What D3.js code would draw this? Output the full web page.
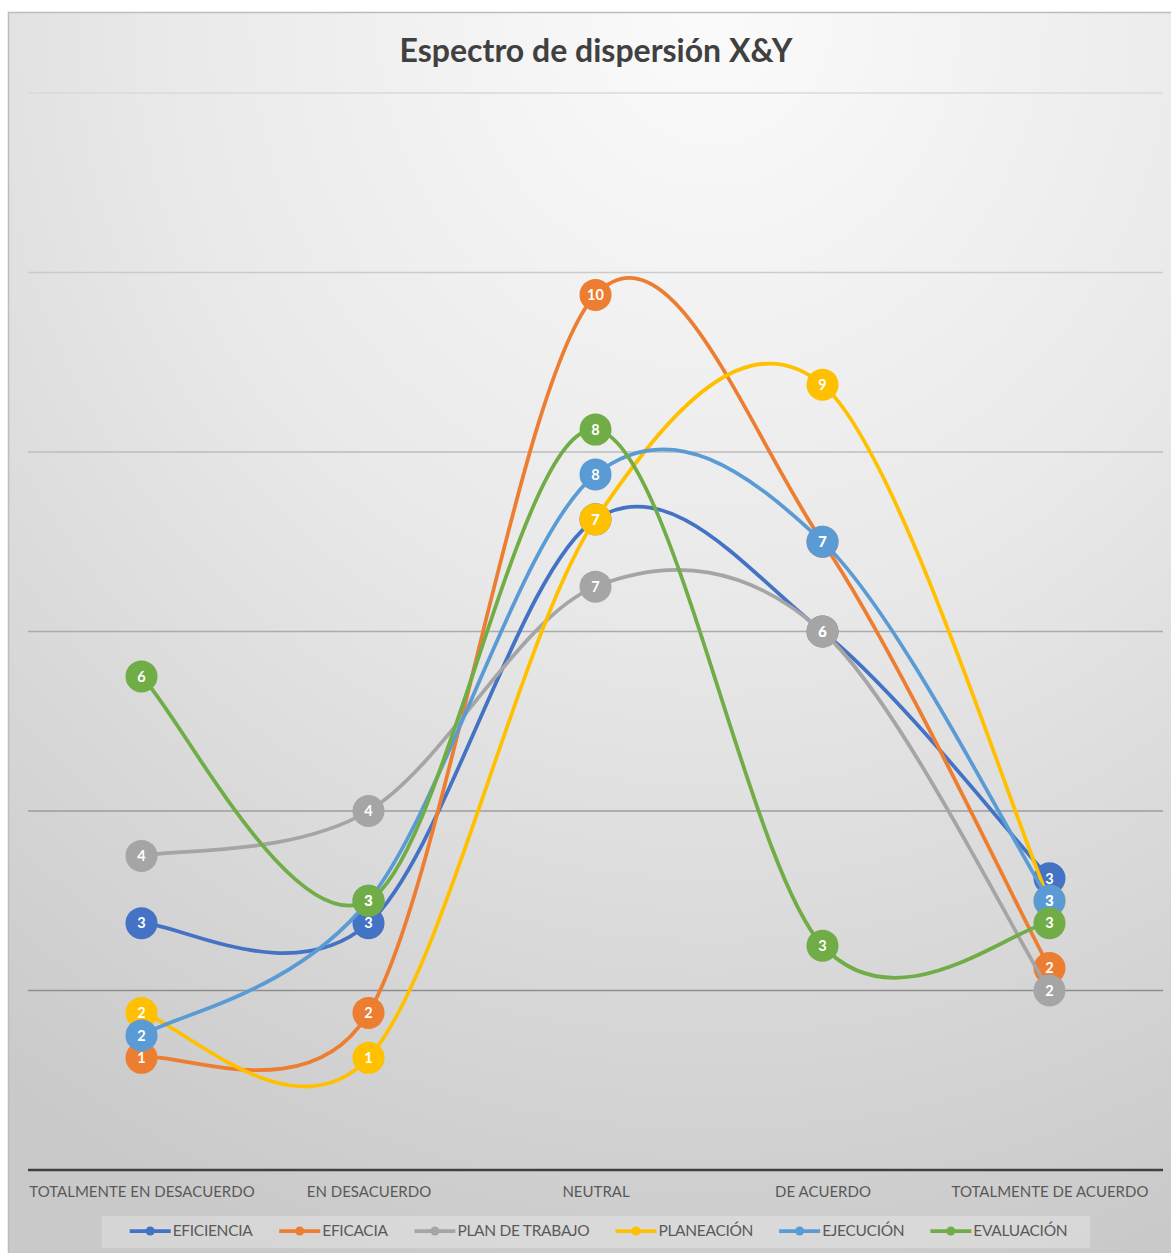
<!DOCTYPE html>
<html><head><meta charset="utf-8">
<script src="https://cdn.jsdelivr.net/npm/d3@7"></script>
<style>body{margin:0;background:#fff}svg{display:block}</style></head>
<body><svg id="c" width="1171" height="1253"></svg>
<script>
const title = "Espectro de dispersión X&Y";
const categories = ["TOTALMENTE EN DESACUERDO","EN DESACUERDO","NEUTRAL","DE ACUERDO","TOTALMENTE DE ACUERDO"];
const seriesNames = ["EFICIENCIA","EFICACIA","PLAN DE TRABAJO","PLANEACIÓN","EJECUCIÓN","EVALUACIÓN"];
const eficiencia    = [2.75, 2.75, 7.25, 6.0, 3.25];
const eficacia      = [1.25, 1.75, 9.75, 7.0, 2.25];
const planDeTrabajo = [3.5, 4.0, 6.5, 6.0, 2.0];
const planeacion    = [1.75, 1.25, 7.25, 8.75, 3.0];
const ejecucion     = [1.5, 3.0, 7.75, 7.0, 3.0];
const evaluacion    = [5.5, 3.0, 8.25, 2.5, 2.75];
const seriesColors  = ["#4472C4","#ED7D31","#A5A5A5","#FFC000","#5B9BD5","#70AD47"];
const yTicks = [2, 4, 6, 8, 10, 12];

const seriesValues = [eficiencia, eficacia, planDeTrabajo, planeacion, ejecucion, evaluacion];
const series = seriesNames.map((n, i) => ({name: n, color: seriesColors[i], values: seriesValues[i]}));

const FONT = "Lato, 'Open Sans', sans-serif";
const svg = d3.select("#c");
const W = 1171, H = 1253;

const defs = svg.append("defs");
const bg = defs.append("radialGradient").attr("id", "bg")
  .attr("cx", "0.6").attr("cy", "0").attr("r", "1.05").attr("fx", "0.6").attr("fy", "0");
bg.append("stop").attr("offset", "0").attr("stop-color", "#fbfbfb");
bg.append("stop").attr("offset", "0.45").attr("stop-color", "#e9e9e9");
bg.append("stop").attr("offset", "1").attr("stop-color", "#c9c9c9");

svg.append("rect").attr("x", 8.5).attr("y", 12.5).attr("width", W).attr("height", H)
  .attr("fill", "url(#bg)").attr("stroke", "#bdbdbd").attr("stroke-width", 1.5);

const plot = {left: 28, right: 1163, top: 93, bottom: 1170};
const x = d3.scalePoint().domain(categories).range([plot.left, plot.right]).padding(0.5);
const y = d3.scaleLinear().domain([0, 12]).range([plot.bottom, plot.top]);

// gridlines
const gridColor = d3.scaleLinear().domain([plot.top, y(2)]).range(["#dadada", "#8e8e8e"]);
svg.append("g").selectAll("line").data(yTicks).join("line")
  .attr("x1", plot.left).attr("x2", plot.right)
  .attr("y1", d => y(d)).attr("y2", d => y(d))
  .attr("stroke", d => gridColor(y(d))).attr("stroke-width", 1.5);

// x axis
const xAxis = svg.append("g").attr("transform", `translate(0,${plot.bottom})`)
  .call(d3.axisBottom(x).tickSize(0).tickPadding(16));
xAxis.select(".domain").attr("stroke", "#404040").attr("stroke-width", 2.5)
  .attr("d", `M${plot.left},0H${plot.right}`);
xAxis.selectAll("text").attr("font-family", FONT).attr("font-size", 15)
  .attr("fill", "#595959");

// title
svg.append("text").attr("x", 596).attr("y", 62).attr("text-anchor", "middle")
  .attr("font-family", FONT).attr("font-weight", "bold").attr("font-size", 32)
  .attr("fill", "#404040").text(title);

// Excel-style smoothed line: Bezier control points (P2-P0)/6, clamped to half of the adjacent segment
function excelSmooth(pts) {
  const p = d3.path();
  const n = pts.length;
  const dist = (a, b) => Math.hypot(b[0] - a[0], b[1] - a[1]);
  const ctrl = pts.map((pt, i) => {
    const p0 = pts[Math.max(0, i - 1)], p2 = pts[Math.min(n - 1, i + 1)];
    const d02 = dist(p0, p2), d01 = dist(p0, pt), d12 = dist(pt, p2);
    const dx = (p2[0] - p0[0]), dy = (p2[1] - p0[1]);
    const fb = d02 ? Math.min(d02 / 6, d01 / 2) / d02 : 0;
    const fa = d02 ? Math.min(d02 / 6, d12 / 2) / d02 : 0;
    return {before: [pt[0] - dx * fb, pt[1] - dy * fb], after: [pt[0] + dx * fa, pt[1] + dy * fa]};
  });
  p.moveTo(pts[0][0], pts[0][1]);
  for (let i = 1; i < n; i++) {
    const a = ctrl[i - 1].after, b = ctrl[i].before;
    p.bezierCurveTo(a[0], a[1], b[0], b[1], pts[i][0], pts[i][1]);
  }
  return p.toString();
}

const R = 16;
series.forEach(s => {
  const g = svg.append("g");
  const pts = s.values.map((v, i) => [x(categories[i]), y(v)]);
  g.append("path").attr("d", excelSmooth(pts)).attr("fill", "none")
    .attr("stroke", s.color).attr("stroke-width", 3.75).attr("stroke-linecap", "round");
  g.selectAll("circle").data(s.values).join("circle")
    .attr("cx", (d, i) => x(categories[i])).attr("cy", d => y(d)).attr("r", R)
    .attr("fill", s.color);
});
// data labels on top
series.forEach(s => {
  svg.append("g").selectAll("text").data(s.values).join("text")
    .attr("x", (d, i) => x(categories[i])).attr("y", d => y(d)).attr("dy", "0.36em")
    .attr("text-anchor", "middle").attr("font-family", FONT).attr("font-weight", "bold")
    .attr("font-size", 14.5).attr("fill", "#ffffff").text(d => Math.round(d));
});

// legend
const lg = svg.append("g");
const legBox = lg.append("rect").attr("fill", "#ffffff").attr("fill-opacity", 0.25);
const items = lg.selectAll("g").data(series).join("g");
items.append("line").attr("x1", 0).attr("x2", 41).attr("y1", 0).attr("y2", 0)
  .attr("stroke", d => d.color).attr("stroke-width", 3.75);
items.append("circle").attr("cx", 20.5).attr("cy", 0).attr("r", 4.5).attr("fill", d => d.color);
items.append("text").attr("x", 43).attr("y", 0).attr("dy", "0.35em")
  .attr("font-family", FONT).attr("font-size", 15.5).attr("letter-spacing", -0.3)
  .attr("fill", "#595959").text(d => d.name);
const widths = [];
items.each(function() { widths.push(this.getBBox().width); });
const gap = 26;
const total = d3.sum(widths) + gap * (widths.length - 1);
let start = 598.5 - total / 2;
items.attr("transform", (d, i) => { const t = `translate(${start},1231)`; start += widths[i] + gap; return t; });
const first = 598.5 - total / 2;
legBox.attr("x", first - 28).attr("y", 1216).attr("width", total + 51).attr("height", 32);
</script></body></html>
